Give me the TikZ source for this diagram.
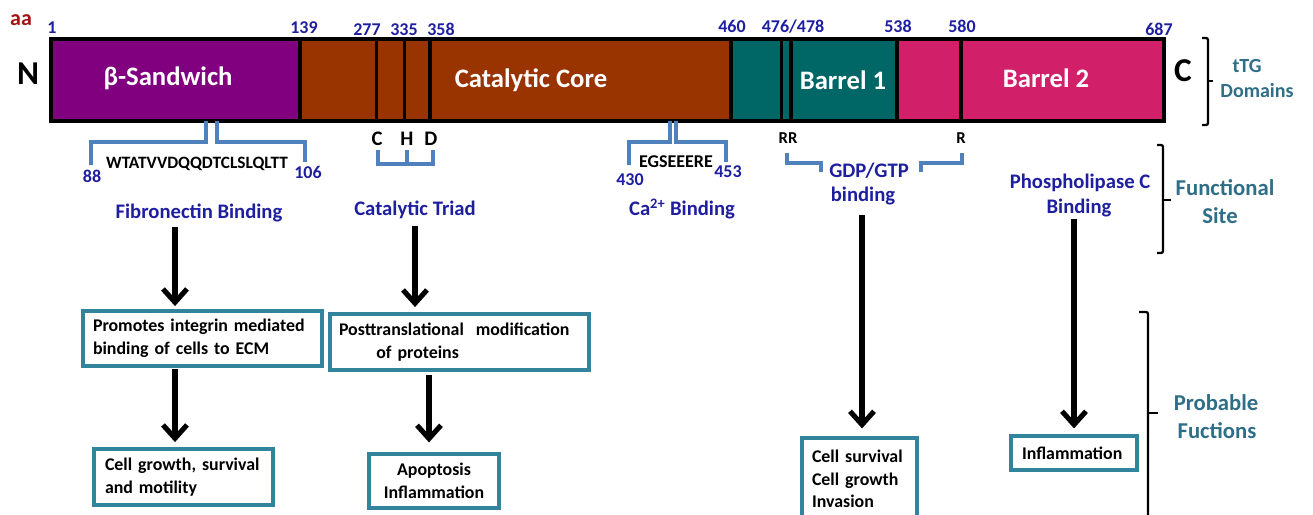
\documentclass[tikz,border=0pt]{standalone}
\usepackage{fontspec}
\setmainfont{Carlito}
\usetikzlibrary{arrows.meta}

\definecolor{sandwich}{RGB}{128,0,128}
\definecolor{core}{RGB}{153,51,0}
\definecolor{barrelA}{RGB}{0,102,102}
\definecolor{barrelB}{RGB}{210,31,106}
\definecolor{numblue}{RGB}{30,30,160}
\definecolor{sitebrk}{RGB}{79,129,189}
\definecolor{boxedge}{RGB}{49,132,155}
\definecolor{legend}{RGB}{46,110,135}
\definecolor{aared}{RGB}{160,20,20}

\tikzset{
  txt/.style={inner sep=0pt, anchor=base, font=\bfseries\fontsize{#1}{#1}\selectfont},
  num/.style={txt=13.5, text=numblue},
  dom/.style={txt=20, text=white},
  term/.style={txt=25},
  site/.style={txt=15.5, text=numblue},
  res/.style={txt=15.5},
  seq/.style={txt=13},
  leg/.style={txt=17, text=legend},
  brk/.style={draw=sitebrk, line width=2.6pt},
  brace/.style={draw=black, line width=1.7pt, rounded corners=1.5pt},
  box/.style={draw=boxedge, line width=2.4pt, inner sep=0pt,
    font=\bfseries\fontsize{13.4}{17}\selectfont},
  flow/.style={line width=3.8pt, -{Straight Barb[length=10pt,width=18pt]}},
  divider/.style={line width=2.5pt}
}

\begin{document}
\begin{tikzpicture}[x=0.75pt,y=-0.75pt]
\useasboundingbox (0,0) rectangle (1313,514);

% ---- domain bar ----
\fill[sandwich] (51,39) rectangle (300,121);
\fill[core]     (300,39) rectangle (731,121);
\fill[barrelA]  (731,39) rectangle (897,121);
\fill[barrelB]  (897,39) rectangle (1164,121);
\foreach \x in {300,376.5,404.5,430,731,781.5,791,897,961}
  \draw[divider] (\x,39) -- (\x,121);
\draw[divider] (51,39) rectangle (1164,121);

\node[dom] (sand) at (168,85) {β-Sandwich};
\node[dom] (core) at (531,87) {Catalytic Core};
\node[dom] (bar1) at (843,89) {Barrel 1};
\node[dom] (bar2) at (1046,87) {Barrel 2};

\node[txt=16.5, text=aared] (aa) at (21,25) {aa};
\node[term] (nterm) at (28,84) {N};
\node[term] (cterm) at (1183,81) {C};

% residue numbers along the bar
\node[num] (p1)   at (52,33)   {1};
\node[num] (p139) at (304,33)  {139};
\node[num] (p277) at (367,35)  {277};
\node[num] (p335) at (404,35)  {335};
\node[num] (p358) at (441,35)  {358};
\node[num] (p460) at (732,32)  {460};
\node[num] (p476) at (793,32)  {476/478};
\node[num] (p538) at (898,32)  {538};
\node[num] (p580) at (962,32)  {580};
\node[num] (p687) at (1159,35) {687};

% ---- fibronectin binding site ----
\coordinate (fa) at (206,121);
\coordinate (fb) at (217,121);
\draw[brk] (fa) -- (206,142) -- (91,142) -- (91,165);
\draw[brk] (fb) -- (217,142) -- (305,142) -- (305,162);
\node[seq] (fseq) at (197,168) {WTATVVDQQDTCLSLQLTT};
\node[num] (f88)  at (92,182)  {88};
\node[num] (f106) at (308,178) {106};
\node[site] (fib) at (199,218) {Fibronectin Binding};

% ---- catalytic triad ----
\node[res] (rc) at (377,145) {C};
\node[res] (rh) at (407,145) {H};
\node[res] (rd) at (431,145) {D};
\draw[brk] (378,150) -- (378,164) -- (433,164) -- (433,150);
\draw[brk] (407,150) -- (407,164);
\node[site] (triad) at (415,215) {Catalytic Triad};

% ---- calcium binding site ----
\coordinate (ca) at (670,121);
\coordinate (cb) at (676,121);
\draw[brk] (ca) -- (670,142) -- (629,142) -- (629,165);
\draw[brk] (cb) -- (676,142) -- (726,142) -- (726,162);
\node[txt=13.5] (cseq) at (676,167) {EGSEEERE};
\node[num] (c430) at (630,185) {430};
\node[num] (c453) at (728,177) {453};
\node[site] (calc) at (682,215) {Ca\textsuperscript{2+} Binding};

% ---- GDP/GTP binding site ----
\node[txt=12.5] (rr) at (788,143) {RR};
\node[txt=12.5] (r)  at (961,143) {R};
\draw[brk] (787,153) -- (787,163) -- (821,163) -- (821,172);
\draw[brk] (962,153) -- (962,163) -- (921,163) -- (921,172);
\node[site] (gdp1) at (869,177) {GDP/GTP};
\node[site] (gdp2) at (863,201) {binding};

% ---- phospholipase C binding ----
\node[site] (plc1) at (1080,188) {Phospholipase C};
\node[site] (plc2) at (1079,213) {Binding};

% ---- consequence boxes ----
\node[box, minimum width=239*0.75pt, minimum height=55*0.75pt,
      text width=219*0.75pt, align=left] (b1) at (202.5,338.5)
  {Promotes\ integrin\ mediated\\binding\ of\ cells\ to\ ECM};
\node[box, minimum width=259*0.75pt, minimum height=56*0.75pt,
      text width=241*0.75pt, align=left] (b2) at (459.5,342)
  {Posttranslational\ \ modification\\\hspace*{28pt}of proteins};
\node[box, minimum width=179*0.75pt, minimum height=56*0.75pt,
      text width=157*0.75pt, align=left] (b3) at (183.5,477)
  {Cell growth, survival\\and motility};
\node[box, minimum width=130*0.75pt, minimum height=54*0.75pt,
      align=center] (b4) at (434,481)
  {Apoptosis\\Inflammation};
\node[box, minimum width=115*0.75pt, minimum height=82*0.75pt,
      text width=95*0.75pt, align=left] (b5) at (859.5,479)
  {Cell survival\\Cell growth\\Invasion};
\node[box, minimum width=126*0.75pt, minimum height=34*0.75pt,
      text width=104*0.75pt, align=left] (b6) at (1074,453)
  {Inflammation};

% ---- arrows ----
\coordinate (s1) at (175,227);
\coordinate (s2) at (175,369);
\coordinate (s3) at (415,226);
\coordinate (s4) at (429,375);
\coordinate (s5) at (862,215);
\coordinate (s6) at (1074,219);
\draw[flow] (s1) -- ([yshift=2.5pt]s1 |- b1.north);
\draw[flow] (s2) -- ([yshift=4pt]s2 |- b3.north);
\draw[flow] (s3) -- ([yshift=4pt]s3 |- b2.north);
\draw[flow] (s4) -- ([yshift=7.5pt]s4 |- b4.north);
\draw[flow] (s5) -- ([yshift=6pt]s5 |- b5.north);
\draw[flow] (s6) -- ([yshift=4.5pt]s6 |- b6.north);

% ---- row braces and legends ----
\draw[brace] (1202,38) -- (1208,38) -- (1208,125) -- (1202,125);
\draw[brace] (1208,81) -- (1213,81);
\node[txt=15, text=legend] (ttg) at (1247,72) {tTG};
\node[txt=15, text=legend] (dom) at (1257,97) {Domains};

\draw[brace] (1157,145) -- (1163,145) -- (1163,253) -- (1157,253);
\draw[brace] (1163,200) -- (1171,200);
\node[leg] (fs1) at (1225,195) {Functional};
\node[leg] (fs2) at (1220,223) {Site};

\draw[brace] (1139,312) -- (1148,312) -- (1148,530);
\draw[brace] (1148,413) -- (1158,413);
\node[leg] (pf1) at (1216,410) {Probable};
\node[leg] (pf2) at (1217,438) {Fuctions};
\end{tikzpicture}
\end{document}
